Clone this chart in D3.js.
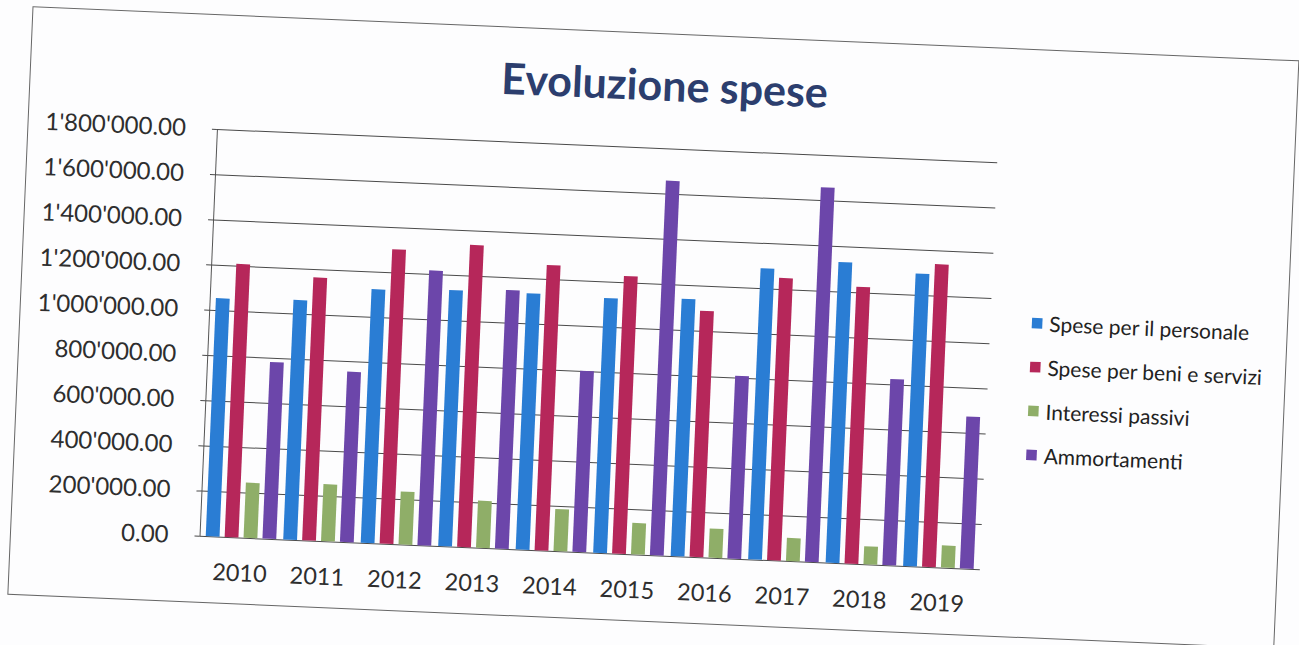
<!DOCTYPE html>
<html>
  <head>
    <meta charset="utf-8">
    <title>Evoluzione spese</title>
    <script type="text/javascript" src="https://cdn.jsdelivr.net/npm/d3@7"></script>
    <style type="text/css">
      body { margin: 0; background: #fdfdfe; }
      svg { display: block; }
    </style>
  </head>
  <body>
    <script type="text/javascript">
      // values
      var years = ['2010', '2011', '2012', '2013', '2014', '2015', '2016', '2017', '2018', '2019'];
      var seriesNames = ['Spese per il personale', 'Spese per beni e servizi', 'Interessi passivi', 'Ammortamenti'];
      var personale    = [1053000, 1060000, 1122000, 1133000, 1133000, 1127000, 1138000, 1288000, 1330000, 1294000];
      var beniServizi  = [1208000, 1163000, 1302000, 1336000, 1262000, 1228000, 1089000, 1249000, 1224000, 1339000];
      var interessi    = [244000, 252000, 234000, 208000, 186000, 139000, 129000, 102000, 80000, 98000];
      var ammortamenti = [781000, 753000, 1216000, 1144000, 801000, 1657000, 808000, 1657000, 823000, 672000];
      var yTicks = [0, 200000, 400000, 600000, 800000, 1000000, 1200000, 1400000, 1600000, 1800000];
      var colors = ['#2a7dd4', '#b6275a', '#8fae68', '#6c46aa'];

      var allSeries = [personale, beniServizi, interessi, ammortamenti];

      var w = 1299;
      var h = 645;
      var plotLeft = 189, plotRight = 970, plotTop = 114.3, plotBottom = 521.5;

      var svg = d3.select('body')
                  .append('svg')
                  .attr('width', w)
                  .attr('height', h);

      // the scan is tilted a little clockwise
      var g = svg.append('g')
                 .attr('transform', 'translate(33,6.7) rotate(2.45)');

      g.append('rect')
        .attr('x', 0).attr('y', 0)
        .attr('width', 1267).attr('height', 588)
        .attr('fill', 'none')
        .attr('stroke', '#666')
        .attr('stroke-width', 1);

      g.append('text')
        .text('Evoluzione spese')
        .attr('x', 634.5)
        .attr('y', 67)
        .attr('text-anchor', 'middle')
        .attr('font-family', 'Lato, sans-serif')
        .attr('font-weight', 'bold')
        .attr('font-size', '43px')
        .attr('fill', '#2c3e6e');

      var x0 = d3.scaleBand().domain(years).range([plotLeft, plotRight]).paddingInner(0.09).paddingOuter(0.08);
      var x1 = d3.scaleBand().domain(d3.range(4)).range([0, x0.bandwidth()]).paddingInner(0.27);
      var y = d3.scaleLinear().domain([0, 1800000]).range([plotBottom, plotTop]);

      var fmt = function(d) { return d3.format(',.2f')(d).replace(/,/g, "'"); };

      var yAxis = g.append('g')
        .attr('transform', 'translate(' + plotLeft + ',0)')
        .call(d3.axisLeft(y).tickValues(yTicks).tickSizeInner(-(plotRight - plotLeft)).tickSizeOuter(0).tickPadding(31).tickFormat(fmt));

      yAxis.select('.domain').attr('stroke', '#555');
      yAxis.selectAll('.tick line').attr('stroke', '#4a4a4a').attr('stroke-width', 1);
      yAxis.selectAll('.tick').append('line')
        .attr('x1', -5).attr('x2', 0)
        .attr('stroke', '#4a4a4a');
      yAxis.selectAll('.tick text')
        .attr('font-family', 'Lato, sans-serif')
        .attr('font-size', '24px')
        .attr('fill', '#2e2e2e');

      var groups = g.selectAll('g.year')
        .data(years)
        .enter()
        .append('g')
        .attr('class', 'year')
        .attr('transform', function(d) { return 'translate(' + x0(d) + ',0)'; });

      groups.selectAll('rect')
        .data(function(d, i) { return allSeries.map(function(s, k) { return {k: k, v: s[i]}; }); })
        .enter()
        .append('rect')
        .attr('x', function(d) { return x1(d.k); })
        .attr('y', function(d) { return y(d.v); })
        .attr('width', x1.bandwidth())
        .attr('height', function(d) { return y(0) - y(d.v); })
        .attr('fill', function(d) { return colors[d.k]; });

      var xAxis = g.append('g')
        .attr('transform', 'translate(0,' + plotBottom + ')')
        .call(d3.axisBottom(x0).tickSize(0));

      xAxis.select('.domain').remove();
      xAxis.selectAll('.tick text')
        .attr('y', 35.5)
        .attr('dy', '0.35em')
        .attr('font-family', 'Lato, sans-serif')
        .attr('font-size', '23.5px')
        .attr('fill', '#2e2e2e');

      var legend = g.selectAll('g.legend')
        .data(seriesNames)
        .enter()
        .append('g')
        .attr('class', 'legend')
        .attr('transform', function(d, i) { return 'translate(1011.5,' + (274 + i * 44) + ')'; });

      legend.append('rect')
        .attr('x', 0).attr('y', -6)
        .attr('width', 10.5).attr('height', 10.5)
        .attr('fill', function(d, i) { return colors[i]; });

      legend.append('text')
        .text(function(d) { return d; })
        .attr('x', 17.5)
        .attr('y', 0)
        .attr('dy', '0.35em')
        .attr('font-family', 'Lato, sans-serif')
        .attr('font-size', '21px')
        .attr('fill', '#222');
    </script>
  </body>
</html>
